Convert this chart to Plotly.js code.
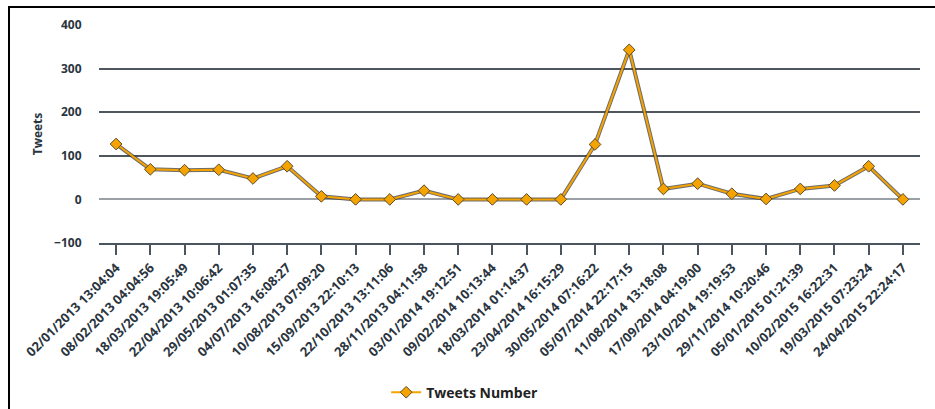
<!DOCTYPE html>
<html>
<head>
<meta charset="utf-8">
<script src="https://cdn.plot.ly/plotly-3.0.1.min.js"></script>
<style>
  html, body { margin: 0; padding: 0; background: #fff; }
  #wrap { position: relative; width: 935px; height: 409px; overflow: hidden; }
  #chart { width: 935px; height: 409px; }
  .frame-top { position: absolute; left: 8px; top: 6px; width: 927px; height: 2px; background: #000; }
  .frame-left { position: absolute; left: 8px; top: 6px; width: 2px; height: 403px; background: #000; }
</style>
</head>
<body>
<div id="wrap">
  <div id="chart"></div>
  <div class="frame-top"></div>
  <div class="frame-left"></div>
</div>
<script>
const categories = [
  "02/01/2013 13:04:04", "08/02/2013 04:04:56", "18/03/2013 19:05:49", "22/04/2013 10:06:42",
  "29/05/2013 01:07:35", "04/07/2013 16:08:27", "10/08/2013 07:09:20", "15/09/2013 22:10:13",
  "22/10/2013 13:11:06", "28/11/2013 04:11:58", "03/01/2014 19:12:51", "09/02/2014 10:13:44",
  "18/03/2014 01:14:37", "23/04/2014 16:15:29", "30/05/2014 07:16:22", "05/07/2014 22:17:15",
  "11/08/2014 13:18:08", "17/09/2014 04:19:00", "23/10/2014 19:19:53", "29/11/2014 10:20:46",
  "05/01/2015 01:21:39", "10/02/2015 16:22:31", "19/03/2015 07:23:24", "24/04/2015 22:24:17"
];
const tweetsNumber = [127, 69, 67, 68, 48, 76, 7, 0, 0, 20, 0, 0, 0, 0, 126, 343, 24, 36, 13, 1, 24, 32, 76, 0];
const seriesName = "Tweets Number";
const yTickValues = [-100, 0, 100, 200, 300, 400];

const orange = "#F5A300";
const dark = "#3f4750";
const font = "'Open Sans', 'Liberation Sans', sans-serif";

const shadow = {
  x: categories, y: tweetsNumber, type: "scatter", mode: "lines",
  line: { color: "rgba(60,60,60,0.75)", width: 4 },
  hoverinfo: "skip", showlegend: false
};
const main = {
  x: categories, y: tweetsNumber, type: "scatter", mode: "lines+markers",
  name: seriesName,
  line: { color: orange, width: 2 },
  marker: { symbol: "diamond", size: 9, color: orange, line: { color: "#5a4a2a", width: 1 } }
};

const layout = {
  width: 935, height: 409,
  margin: { l: 99, r: 15, t: 25, b: 166 },
  paper_bgcolor: "#fff", plot_bgcolor: "#fff",
  font: { family: font, color: dark },
  showlegend: true,
  legend: {
    orientation: "h", xref: "container", yref: "container",
    x: 0.497, xanchor: "center", y: 0.04, yanchor: "middle",
    font: { family: font, size: 14, weight: 700, color: "#222" }
  },
  xaxis: {
    type: "category", range: [-0.5, 23.5],
    tickangle: -45, ticks: "outside", ticklen: 10, tickwidth: 2, tickcolor: "#4a5560",
    showline: true, linecolor: "#4a5560", linewidth: 2,
    showgrid: false, zeroline: false,
    tickfont: { family: font, size: 13, weight: 700, color: "#2b3540" }
  },
  yaxis: {
    range: [-100, 400], tickvals: yTickValues, ticktext: yTickValues.map(v => v < 0 ? "\u2212" + (-v) : String(v)),
    showgrid: true, gridcolor: "#4f565e", gridwidth: 2,
    zeroline: true, zerolinecolor: "#9aa0a6", zerolinewidth: 2,
    ticks: "outside", ticklen: 14, tickcolor: "rgba(0,0,0,0)",
    showline: false,
    tickfont: { family: font, size: 12, weight: 700, color: "#2b3540" },
    title: { text: "Tweets", standoff: 8, font: { family: font, size: 12, weight: 700, color: "#2b3540" } }
  }
};

Plotly.newPlot("chart", [shadow, main], layout, { displayModeBar: false, staticPlot: true });
</script>
</body>
</html>
